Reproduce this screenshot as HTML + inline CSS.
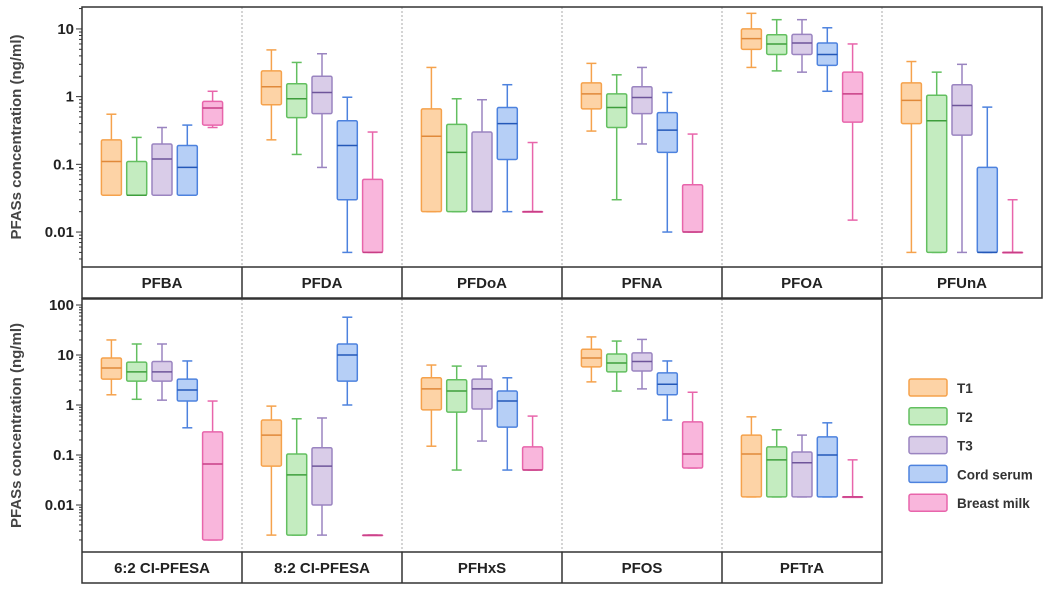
<!DOCTYPE html>
<html><head><meta charset="utf-8"><style>
body{margin:0;background:#fff;}
svg{display:block;font-family:"Liberation Sans",Arial,sans-serif;}
</style></head><body>
<svg id="chart" width="1050" height="590" viewBox="0 0 1050 590" xmlns="http://www.w3.org/2000/svg"></svg>
<script>
// ---- data (ng/ml): [whiskerLow, q1, median, q3, whiskerHigh] per group ----
const groups = ["T1","T2","T3","Cord serum","Breast milk"];
const topCompounds = ["PFBA","PFDA","PFDoA","PFNA","PFOA","PFUnA"];
const bottomCompounds = ["6:2 CI-PFESA","8:2 CI-PFESA","PFHxS","PFOS","PFTrA"];
const topTickLabels = ["10","1","0.1","0.01"];
const topTickValues = [10,1,0.1,0.01];
const bottomTickLabels = ["100","10","1","0.1","0.01"];
const bottomTickValues = [100,10,1,0.1,0.01];

const PFBA = [[0.035,0.035,0.11,0.23,0.55],[0.035,0.035,0.035,0.11,0.25],[0.035,0.035,0.12,0.2,0.35],[0.035,0.035,0.09,0.19,0.38],[0.35,0.38,0.68,0.85,1.2]];
const PFDA = [[0.23,0.76,1.4,2.4,4.9],[0.14,0.49,0.93,1.55,3.2],[0.09,0.56,1.15,2.0,4.3],[0.005,0.03,0.19,0.44,0.98],[0.005,0.005,0.005,0.06,0.3]];
const PFDoA = [[0.02,0.02,0.26,0.66,2.7],[0.02,0.02,0.15,0.39,0.93],[0.02,0.02,0.02,0.3,0.9],[0.02,0.118,0.4,0.69,1.5],[0.02,0.02,0.02,0.02,0.21]];
const PFNA = [[0.31,0.66,1.1,1.6,3.1],[0.03,0.35,0.69,1.1,2.1],[0.2,0.56,0.97,1.4,2.7],[0.01,0.15,0.32,0.58,1.15],[0.01,0.01,0.01,0.05,0.28]];
const PFOA = [[2.7,5.0,7.2,10,17],[2.4,4.2,6.0,8.2,13.7],[2.3,4.2,6.2,8.3,13.7],[1.2,2.9,4.2,6.2,10.4],[0.015,0.42,1.1,2.3,6.0]];
const PFUnA = [[0.005,0.4,0.88,1.6,3.3],[0.005,0.005,0.44,1.05,2.3],[0.005,0.27,0.74,1.5,3.0],[0.005,0.005,0.005,0.09,0.7],[0.005,0.005,0.005,0.005,0.03]];
const CIPFESA62 = [[1.6,3.3,5.5,8.7,20],[1.3,3.0,4.6,7.2,16.6],[1.25,3.0,4.6,7.4,16.6],[0.35,1.2,2.0,3.3,7.6],[0.002,0.002,0.066,0.29,1.2]];
const CIPFESA82 = [[0.0025,0.06,0.25,0.5,0.95],[0.0025,0.0025,0.04,0.105,0.53],[0.0025,0.01,0.06,0.14,0.55],[1.0,3.0,10,16.6,57],[0.0025,0.0025,0.0025,0.0025,0.0025]];
const PFHxS = [[0.15,0.8,2.1,3.5,6.3],[0.05,0.72,1.9,3.2,6.0],[0.19,0.83,2.1,3.3,6.0],[0.05,0.36,1.2,1.9,3.5],[0.05,0.05,0.05,0.145,0.6]];
const PFOS = [[2.9,5.8,8.7,13,23],[1.9,4.6,6.9,10.5,19],[2.1,4.8,7.4,11,20.5],[0.5,1.6,2.6,4.4,7.6],[0.055,0.055,0.105,0.46,1.8]];
const PFTrA = [[0.0145,0.0145,0.105,0.25,0.58],[0.0145,0.0145,0.08,0.145,0.32],[0.0145,0.0145,0.07,0.115,0.25],[0.0145,0.0145,0.1,0.23,0.44],[0.0145,0.0145,0.0145,0.0145,0.08]];
const topData = [PFBA,PFDA,PFDoA,PFNA,PFOA,PFUnA];
const bottomData = [CIPFESA62,CIPFESA82,PFHxS,PFOS,PFTrA];

const fills = ["#fdd3a6","#c4ecc0","#d9cce8","#b6cff6","#f9b6dc"];
const strokes = ["#f5a24c","#63bf60","#9a84c0","#4d82de","#e865ab"];
const medians = ["#e0893a","#3e9e3c","#6e559a","#2458b8","#c83f86"];

const NS="http://www.w3.org/2000/svg";
const svg=document.getElementById('chart');
function mk(tag,attrs,parent){const e=document.createElementNS(NS,tag);for(const k in attrs)e.setAttribute(k,attrs[k]);(parent||svg).appendChild(e);return e;}

const X0=82, PW=160;
function makeY(y0, yTop, logTop, pxPerDec){ return v => yTop + (logTop - Math.log10(v))*pxPerDec; }
const rows = [
  {names:topCompounds,data:topData,top:7,bottom:267,strip:298,y:makeY(0,7,1.324,67.7),ticks:topTickValues,tickLabels:topTickLabels,minDec:-3,maxDec:1},
  {names:bottomCompounds,data:bottomData,top:299,bottom:552,strip:583,y:makeY(0,299,2.12,50),ticks:bottomTickValues,tickLabels:bottomTickLabels,minDec:-3,maxDec:2}
];

rows.forEach((row,ri)=>{
  const n=row.names.length, right=X0+n*PW;
  const g=mk('g',{});
  
  
  for(let i=1;i<n;i++){
    const l=mk('line',{x1:X0+i*PW,x2:X0+i*PW,y1:row.top,y2:row.bottom,stroke:'#aaa','stroke-width':1,'stroke-dasharray':'2,2'},g);
    
    
  }
  row.data.forEach((comp,ci)=>{
    const cx0=X0+ci*PW+PW/2;
    const pg=mk('g',{},g);
    
    
    comp.forEach((s,gi)=>{
      const cx=cx0+(gi-2)*25.3, w=20;
      const [lo,q1,md,q3,hi]=s.map(row.y);
      const bg=mk('g',{},pg);
      
      
      mk('line',{x1:cx,x2:cx,y1:hi,y2:lo,stroke:strokes[gi],'stroke-width':1.5},bg);
      mk('line',{x1:cx-5,x2:cx+5,y1:hi,y2:hi,stroke:strokes[gi],'stroke-width':1.5},bg);
      mk('line',{x1:cx-5,x2:cx+5,y1:lo,y2:lo,stroke:strokes[gi],'stroke-width':1.5},bg);
      mk('rect',{x:cx-w/2,y:q3,width:w,height:Math.max(q1-q3,0.5),rx:1.5,fill:fills[gi],stroke:strokes[gi],'stroke-width':1.5},bg);
      mk('line',{x1:cx-w/2,x2:cx+w/2,y1:md,y2:md,stroke:medians[gi],'stroke-width':1.5},bg);
    });
  });
  mk('rect',{x:X0,y:row.top,width:n*PW,height:row.strip-row.top,fill:'none',stroke:'#333','stroke-width':1.5},g);
  mk('line',{x1:X0,x2:right,y1:row.bottom,y2:row.bottom,stroke:'#333','stroke-width':1.5},g);
  for(let i=1;i<n;i++) mk('line',{x1:X0+i*PW,x2:X0+i*PW,y1:row.bottom,y2:row.strip,stroke:'#333','stroke-width':1.5},g);
  row.names.forEach((nm,ci)=>{
    const t=mk('text',{x:X0+ci*PW+PW/2,y:(row.bottom+row.strip)/2+5.5,'text-anchor':'middle','font-size':15,'font-weight':'bold',fill:'#222'},g);
    t.textContent=nm;
    
    
  });
  for(let d=row.minDec; d<=row.maxDec; d++){
    for(let m=1;m<10;m++){
      const v=m*Math.pow(10,d), yy=row.y(v);
      if(yy<row.top||yy>row.bottom) continue;
      mk('line',{x1:X0-(m===1?6:3),x2:X0,y1:yy,y2:yy,stroke:'#333','stroke-width':1},g);
    }
  }
  row.ticks.forEach((v,i)=>{
    const t=mk('text',{x:X0-8,y:row.y(v)+5,'text-anchor':'end','font-size':15,'font-weight':'bold',fill:'#222'},g);
    t.textContent=row.tickLabels[i];
    
    
  });
  const cy=(row.top+row.bottom)/2;
  const yt=mk('text',{x:21,y:cy,'text-anchor':'middle','font-size':15,'font-weight':'bold',fill:'#444',transform:`rotate(-90 21 ${cy})`},g);
  yt.textContent='PFASs concentration (ng/ml)';
  
  
});

const lg=mk('g',{});


groups.forEach((gname,i)=>{
  const yy=388+i*28.8;
  const e=mk('g',{},lg);
  
  
  mk('rect',{x:909,y:yy-9,width:38,height:17,rx:2,fill:fills[i],stroke:strokes[i],'stroke-width':1.5},e);
  const t=mk('text',{x:957,y:yy+5,'font-size':13.5,'font-weight':'bold',fill:'#333'},e);
  t.textContent=gname;
});
</script>
</body></html>
